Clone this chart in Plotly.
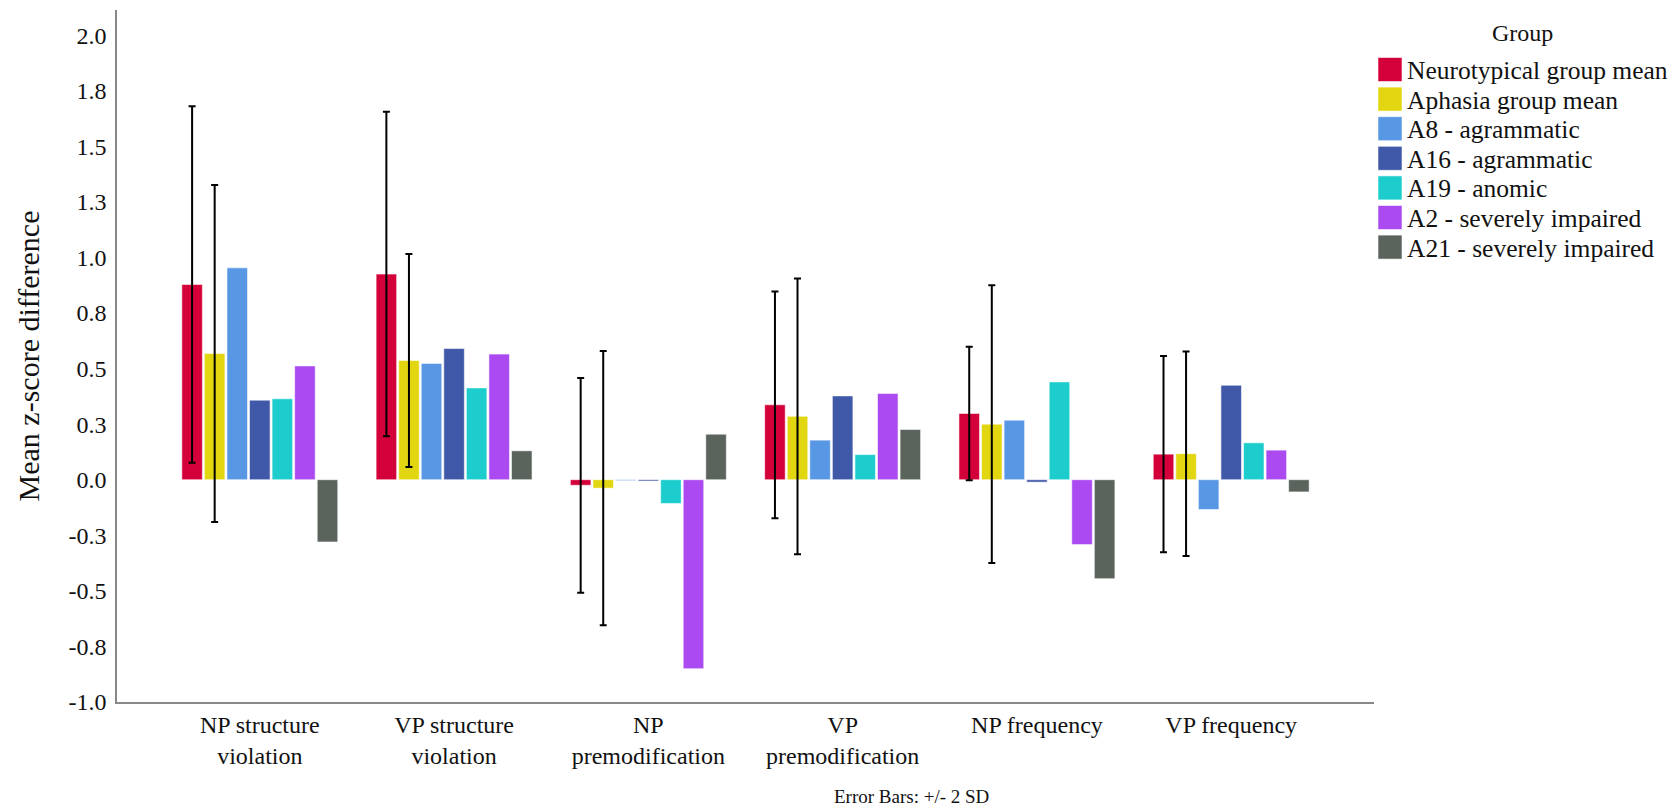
import plotly.graph_objects as go

# Categories on the x axis
categories = [
    "NP structure<br>violation",
    "VP structure<br>violation",
    "NP<br>premodification",
    "VP<br>premodification",
    "NP frequency",
    "VP frequency",
]

# Groups / participants (legend order)
groups = [
    "Neurotypical group mean",
    "Aphasia group mean",
    "A8 - agrammatic",
    "A16 - agrammatic",
    "A19 - anomic",
    "A2 - severely impaired",
    "A21 - severely impaired",
]

colors = ["#D4003A", "#E2D610", "#5897E3", "#3F58A8", "#1DCDCD", "#AA4AF0", "#5B635D"]

# Mean z-score differences per category
neurotypical = [0.878, 0.925, -0.025, 0.337, 0.298, 0.115]
aphasia = [0.568, 0.536, -0.038, 0.285, 0.250, 0.117]
a8 = [0.953, 0.523, -0.004, 0.178, 0.268, -0.134]
a16 = [0.358, 0.590, -0.006, 0.377, -0.011, 0.425]
a19 = [0.364, 0.413, -0.107, 0.113, 0.440, 0.166]
a2 = [0.512, 0.565, -0.850, 0.388, -0.292, 0.133]
a21 = [-0.280, 0.130, 0.205, 0.226, -0.445, -0.055]

# +/- 2 SD for the two group means
neurotypical_2sd = [0.802, 0.730, 0.483, 0.510, 0.300, 0.441]
aphasia_2sd = [0.758, 0.479, 0.617, 0.620, 0.625, 0.460]

series = [neurotypical, aphasia, a8, a16, a19, a2, a21]
errors = [neurotypical_2sd, aphasia_2sd, None, None, None, None, None]

ytick_vals = [-1.0, -0.75, -0.5, -0.25, 0.0, 0.25, 0.5, 0.75, 1.0, 1.25, 1.5, 1.75, 2.0]
ytick_text = ["-1.0", "-0.8", "-0.5", "-0.3", "0.0", "0.3", "0.5", "0.8", "1.0", "1.3", "1.5", "1.8", "2.0"]

FONT = "Liberation Serif, Times New Roman, serif"
W, H = 1677, 810
ML, MR, MT, MB = 117, 303, 10, 108
PW, PH = W - ML - MR, H - MT - MB

fig = go.Figure()
for name, vals, col, err in zip(groups, series, colors, errors):
    kw = {}
    if err is not None:
        kw["error_y"] = dict(type="data", array=err, visible=True,
                             color="black", thickness=2, width=3.5)
    fig.add_trace(go.Bar(
        x=categories, y=vals, name=name,
        marker=dict(color=col, line=dict(color="rgba(255,255,255,0.55)", width=1)),
        showlegend=False, **kw,
    ))


def px_x(px):
    return (px - ML) / PW


def px_y(py):
    return (H - MB - py) / PH


# Legend drawn as swatches and labels to the right of the plot
shapes = []
annotations = []
annotations.append(dict(
    text="Group", x=px_x(1522), y=px_y(33), xref="paper", yref="paper",
    showarrow=False, xanchor="center", yanchor="middle",
    font=dict(family=FONT, size=24, color="#111"),
))
for i, (name, col) in enumerate(zip(groups, colors)):
    cy = 69.5 + i * 29.6
    shapes.append(dict(
        type="rect", xref="paper", yref="paper",
        x0=px_x(1378), x1=px_x(1402), y0=px_y(cy + 12), y1=px_y(cy - 12),
        fillcolor=col, line=dict(color="rgba(255,255,255,0.55)", width=1),
    ))
    annotations.append(dict(
        text=name, x=px_x(1405), y=px_y(cy + 1), xref="paper", yref="paper",
        showarrow=False, xanchor="left", yanchor="middle",
        font=dict(family=FONT, size=25.5, color="#111"),
    ))

annotations.append(dict(
    text="Error Bars: +/- 2 SD", x=px_x(911), y=px_y(796), xref="paper", yref="paper",
    showarrow=False, xanchor="center", yanchor="middle",
    font=dict(family=FONT, size=19, color="#111"),
))

fig.update_layout(
    width=W, height=H,
    margin=dict(l=ML, r=MR, t=MT, b=MB, pad=0),
    paper_bgcolor="white", plot_bgcolor="white",
    barmode="group", bargap=0.187, bargroupgap=0.09,
    font=dict(family=FONT, color="#111"),
    shapes=shapes, annotations=annotations,
    showlegend=False,
)
fig.update_xaxes(
    type="category", range=[-0.735, 5.735],
    showline=True, linecolor="#888", linewidth=1.5,
    showgrid=False, ticks="", zeroline=False,
    tickfont=dict(family=FONT, size=24, color="#111"),
    ticklabelstandoff=0,
)
fig.update_yaxes(
    range=[-1.0, 2.113],
    tickvals=ytick_vals, ticktext=ytick_text,
    showline=True, linecolor="#888", linewidth=1.5,
    showgrid=False, ticks="", zeroline=False,
    tickfont=dict(family=FONT, size=24, color="#111"),
    ticklabelstandoff=4,
    title=dict(text="Mean z-score difference", font=dict(family=FONT, size=30, color="#111"), standoff=20),
)

fig.write_html("out.html")
